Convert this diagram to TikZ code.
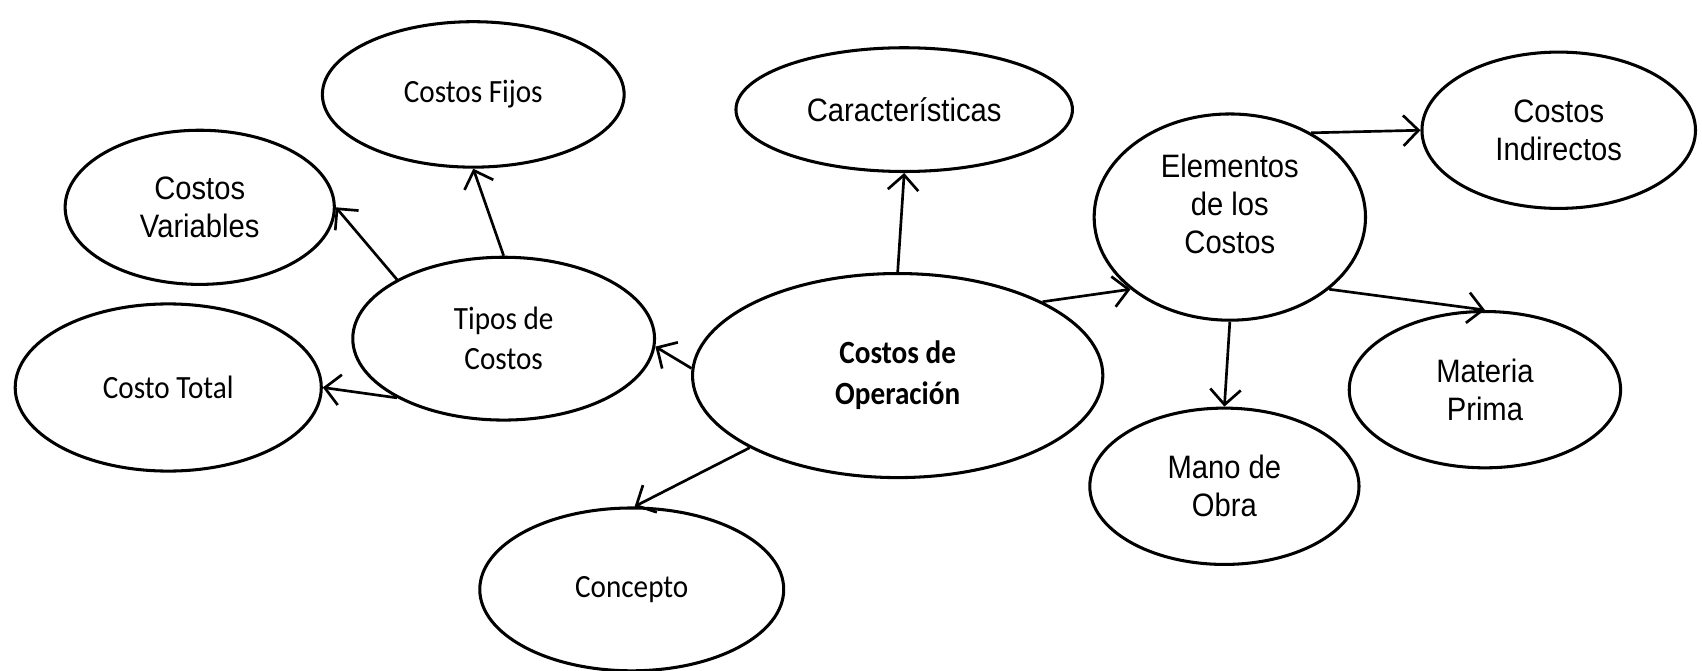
\documentclass[tikz,border=0pt]{standalone}
\usepackage{fontspec}
\setmainfont{Carlito}[FakeStretch=0.9]
\newfontfamily\arialfont{Liberation Sans}[FakeStretch=0.9]
\usetikzlibrary{shapes.geometric,arrows.meta}
\begin{document}
\begin{tikzpicture}[
		every node/.style = {shape=ellipse, draw, line width=0.8pt, align=center, inner sep=0pt,
			font=\fontsize{8.5}{10.5}\selectfont},
		arial/.style = {font=\arialfont\fontsize{8.5}{10}\selectfont},
		link/.style = {-{Straight Barb[length=4pt,width=8pt]}, line width=0.7pt}]
	\useasboundingbox (0,0) rectangle (15.68,6.18);
	% centro
	\node[minimum width=3.78cm, minimum height=1.88cm,
		font=\bfseries\fontsize{8.5}{10.8}\selectfont] (op) at (8.27,2.72) {Costos de\\Operación};
	\node[arial, minimum width=3.10cm, minimum height=1.14cm] (caract) at (8.33,5.17) {Características};
	\node[minimum width=2.80cm, minimum height=1.50cm] (concepto) at (5.82,0.75) {Concepto};
	% tipos
	\node[minimum width=2.78cm, minimum height=1.50cm] (tipos) at (4.64,3.06) {Tipos de\\Costos};
	\node[minimum width=2.78cm, minimum height=1.34cm] (fijos) at (4.36,5.31) {Costos Fijos};
	\node[arial, minimum width=2.48cm, minimum height=1.42cm] (variables) at (1.84,4.27) {Costos\\Variables};
	\node[minimum width=2.82cm, minimum height=1.54cm] (total) at (1.55,2.61) {Costo Total};
	% elementos
	\node[arial, minimum width=2.50cm, minimum height=1.90cm, text depth=0.25cm] (elem) at (11.33,4.18) {Elementos\\de los\\Costos};
	\node[arial, minimum width=2.52cm, minimum height=1.44cm] (indirectos) at (14.36,4.98) {Costos\\Indirectos};
	\node[arial, minimum width=2.50cm, minimum height=1.44cm] (materia) at (13.68,2.59) {Materia\\Prima};
	\node[arial, minimum width=2.48cm, minimum height=1.44cm] (mano) at (11.28,1.70) {Mano de\\Obra};

	\draw[link] (op.178) -- (tipos.-3);
	\draw[link] (op.206) -- (concepto.88);
	\draw[link] (op.90) -- (caract.-90);
	\draw[link] (op.27) -- (elem.216);
	\draw[link] (tipos.90) -- (fijos.-90);
	\draw[link] (tipos.151) -- (variables.0);
	\draw[link] (tipos.209) -- (total.0);
	\draw[link] (elem.46) -- (indirectos.180);
	\draw[link] (elem.-36) -- (materia.90);
	\draw[link] (elem.-90) -- (mano.90);
\end{tikzpicture}
\end{document}
